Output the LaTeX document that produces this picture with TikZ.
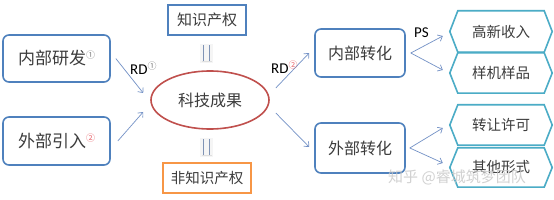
\documentclass[tikz,border=0pt]{standalone}
\usepackage{fontspec}
\setmainfont{Carlito}
\newfontfamily\cjk{Noto Sans CJK SC}
\usetikzlibrary{arrows.meta,shapes.geometric}
\definecolor{boxblue}{HTML}{4F81BD}
\definecolor{ellred}{HTML}{C0504D}
\definecolor{boxorange}{HTML}{F79646}
\definecolor{hexteal}{HTML}{4BACC6}
\definecolor{arrblue}{HTML}{7391C6}
\definecolor{txtgray}{HTML}{3C3C3C}
\definecolor{supred}{HTML}{E8636A}
\definecolor{eqline}{HTML}{7F93B5}
\tikzset{
  cjktext/.style={text=txtgray, font=\cjk\fontsize{#1}{#1}\selectfont},
  roundbox/.style={draw=boxblue, line width=1.6pt, rounded corners=6pt, fill=white, inner sep=0pt},
  sqbox/.style={draw=#1, line width=1.6pt, fill=white, inner sep=0pt},
  hexlabel/.style={inner sep=0pt, minimum width=86pt, minimum height=#1},
  hexline/.style={draw=hexteal, line width=1.6pt, line join=miter},
  arr/.style={draw=arrblue, line width=0.7pt, -{Straight Barb[length=4pt,width=7pt]}},
  eqmark/.style={minimum width=13pt, minimum height=19pt, inner sep=0pt, fill=gray!8,
    path picture={
      \draw[eqline, line width=1.2pt] ([xshift=-3pt,yshift=-1pt]path picture bounding box.north) -- ([xshift=-3pt,yshift=2pt]path picture bounding box.south);
      \draw[eqline, line width=1.2pt] ([xshift=3pt,yshift=-1pt]path picture bounding box.north) -- ([xshift=3pt,yshift=2pt]path picture bounding box.south);
      \draw[gray!25, line width=1pt] ([xshift=-5pt,yshift=2pt]path picture bounding box.south) -- ([xshift=5pt,yshift=2pt]path picture bounding box.south);
    }},
  lbl/.style={font=\fontsize{15}{15}\selectfont, text=black, inner sep=0pt}
}
\begin{document}
\begin{tikzpicture}[x=1pt,y=-1pt]
\useasboundingbox[fill=white] (0,0) rectangle (554,200);

% left boxes
\node[roundbox, minimum width=107pt, minimum height=47pt, cjktext=17] (nbyf) at (56.5,58.5)
  {内部研发\raisebox{6pt}{\fontsize{9}{9}\selectfont\color{gray}①}};
\node[roundbox, minimum width=107pt, minimum height=48pt, cjktext=17] (wbyr) at (56.5,141)
  {外部引入\raisebox{6pt}{\fontsize{9}{9}\selectfont\color{supred}②}};

% center
\node[sqbox=boxblue, minimum width=78pt, minimum height=30pt, cjktext=15] (zscq) at (207,20) {知识产权};
\node[sqbox=boxorange, minimum width=88pt, minimum height=30pt, cjktext=14.5] (fzscq) at (207,178) {非知识产权};
\node[draw=ellred, line width=1.6pt, ellipse, minimum width=118pt, minimum height=58pt, inner sep=0pt, cjktext=16] (kjcg) at (210,100) {科技成果};

\node[eqmark] (eq1) at (206.5,54) {};
\node[eqmark] (eq2) at (206.5,148) {};

% right boxes
\node[roundbox, minimum width=90pt, minimum height=48pt, cjktext=16] (nbzh) at (360,53) {内部转化};
\node[roundbox, minimum width=90pt, minimum height=50pt, cjktext=16] (wbzh) at (360,148) {外部转化};

% hexagons
\node[hexlabel=41pt, cjktext=14.5] (h1) at (501,31.5) {高新收入};
\node[hexlabel=40pt, cjktext=14.5] (h2) at (501,73) {样机样品};
\node[hexlabel=40pt, cjktext=14.5] (h3) at (501,125) {转让许可};
\node[hexlabel=39pt, cjktext=14.5] (h4) at (501,167.5) {其他形式};
\foreach \h in {h1,h2,h3,h4}{
  \draw[hexline] (\h.north west) -- (\h.north east) -- ([xshift=8pt]\h.east) -- (\h.south east)
    -- (\h.south west) -- ([xshift=-8pt]\h.west) -- cycle;
}

% arrows
\draw[arr] ([xshift=5pt]nbyf.east) -- ([xshift=-7pt,yshift=7pt]kjcg.west);
\draw[arr] ([xshift=7pt]wbyr.east) -- ([xshift=-7pt,yshift=-12pt]kjcg.west);
\draw[arr] ([xshift=6pt,yshift=12pt]kjcg.east) -- ([xshift=-5pt]nbzh.west);
\draw[arr] ([xshift=6pt,yshift=-13pt]kjcg.east) -- ([xshift=-5pt,yshift=1pt]wbzh.west);
\draw[arr] ([xshift=5pt]nbzh.east) -- ([xshift=-15pt,yshift=-4.5pt]h1.west);
\draw[arr] ([xshift=5pt]nbzh.east) -- ([xshift=-15pt,yshift=3pt]h2.west);
\draw[arr] ([xshift=4pt]wbzh.east) -- ([xshift=-15pt,yshift=-3pt]h3.west);
\draw[arr] ([xshift=4pt]wbzh.east) -- ([xshift=-15pt,yshift=4.5pt]h4.west);

% labels
\node[lbl, anchor=west] (rd1) at (130,68) {RD\raisebox{5pt}{\cjk\fontsize{9}{9}\selectfont\color{gray}①}};
\node[lbl, anchor=west] (rd2) at (271,67) {RD\raisebox{5pt}{\cjk\fontsize{9}{9}\selectfont\color{supred}②}};
\node[lbl, anchor=west] (ps) at (414,33) {PS};

% watermark
\node[text=gray!45, opacity=0.8, font=\cjk\fontsize{15}{15}\selectfont, inner sep=0pt, anchor=west] (wm) at (388,177) {知乎 @睿城筑梦团队};
\end{tikzpicture}
\end{document}
